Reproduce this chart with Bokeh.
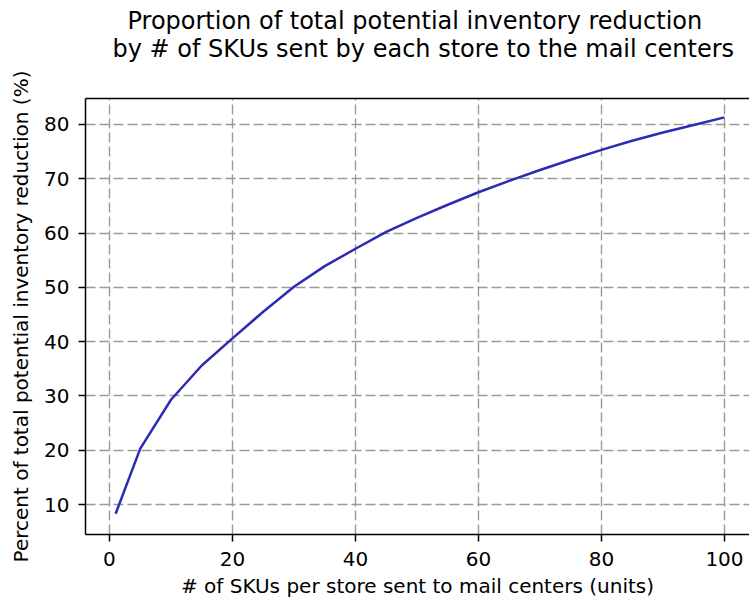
from bokeh.plotting import figure
from bokeh.models import Range1d, LinearAxis, Title, FixedTicker
from bokeh.embed import file_html
from bokeh.resources import INLINE

# ---- data ----
skus_per_store = [1, 5, 10, 15, 20, 25, 30, 35, 40, 45, 50,
                  55, 60, 65, 70, 75, 80, 85, 90, 95, 100]
pct_reduction = [8.3, 20.3, 29.3, 35.6, 40.6, 45.5, 50.1, 53.9, 57.1, 60.2, 62.8,
                 65.2, 67.5, 69.6, 71.6, 73.5, 75.3, 77.0, 78.5, 79.9, 81.3]
x_tick_values = [0, 20, 40, 60, 80, 100]
y_tick_values = [10, 20, 30, 40, 50, 60, 70, 80]

title_line1 = "Proportion of total potential inventory reduction"
title_line2 = "by # of SKUs sent by each store to the mail centers"
x_label = "# of SKUs per store sent to mail centers (units)"
y_label = "Percent of total potential inventory reduction (%)"

FONT = "DejaVu Sans"

p = figure(width=749, height=600,
           x_range=Range1d(-3.9, 104.07), y_range=Range1d(4.48, 84.77),
           output_backend="svg", toolbar_location=None,
           min_border_left=85, min_border_top=98,
           min_border_bottom=66, min_border_right=0)
p.outline_line_color = None
p.background_fill_color = "white"
p.border_fill_color = "white"

p.line(skus_per_store, pct_reduction, line_color="#2b2bb3", line_width=2.5)

# axes
for ax in (p.xaxis[0], p.yaxis[0]):
    ax.major_label_text_font = FONT
    ax.major_label_text_font_size = "20px"
    ax.major_label_text_color = "black"
    ax.axis_line_color = "black"
    ax.axis_line_width = 1.5
    ax.major_tick_line_color = "black"
    ax.major_tick_line_width = 1.5
    ax.major_tick_out = 7
    ax.major_tick_in = 0
    ax.minor_tick_line_color = None
    ax.axis_label_text_font = FONT
    ax.axis_label_text_font_size = "20px"
    ax.axis_label_text_font_style = "normal"
    ax.axis_label_text_color = "black"

p.xaxis.ticker = FixedTicker(ticks=x_tick_values)
p.yaxis.ticker = FixedTicker(ticks=y_tick_values)
p.xaxis.axis_label = x_label
p.yaxis.axis_label = y_label
p.xaxis.major_label_standoff = 10
p.yaxis.major_label_standoff = 9
p.xaxis.axis_label_standoff = 5
p.yaxis.axis_label_standoff = 8

# top spine
top = LinearAxis(ticker=FixedTicker(ticks=x_tick_values))
top.axis_line_color = "black"
top.axis_line_width = 1.5
top.major_tick_line_color = None
top.minor_tick_line_color = None
top.major_label_text_color = None
top.major_label_text_font_size = "1px"
top.major_label_standoff = 0
p.add_layout(top, "above")

# title: two lines, the later one sits higher
p.add_layout(Title(text=title_line2, align="left", text_font=FONT,
                   text_font_size="24px", text_font_style="normal",
                   text_color="black", standoff=60, offset=27), "above")
p.add_layout(Title(text=title_line1, align="left", text_font=FONT,
                   text_font_size="24px", text_font_style="normal",
                   text_color="black", standoff=-64, offset=42), "above")

# grid
for g in (p.xgrid[0], p.ygrid[0]):
    g.grid_line_color = "#9a9a9a"
    g.grid_line_width = 1.4
    g.grid_line_dash = "10 4"
p.xgrid.ticker = FixedTicker(ticks=x_tick_values)
p.ygrid.ticker = FixedTicker(ticks=y_tick_values)

open("out.html", "w").write(file_html(p, INLINE))
